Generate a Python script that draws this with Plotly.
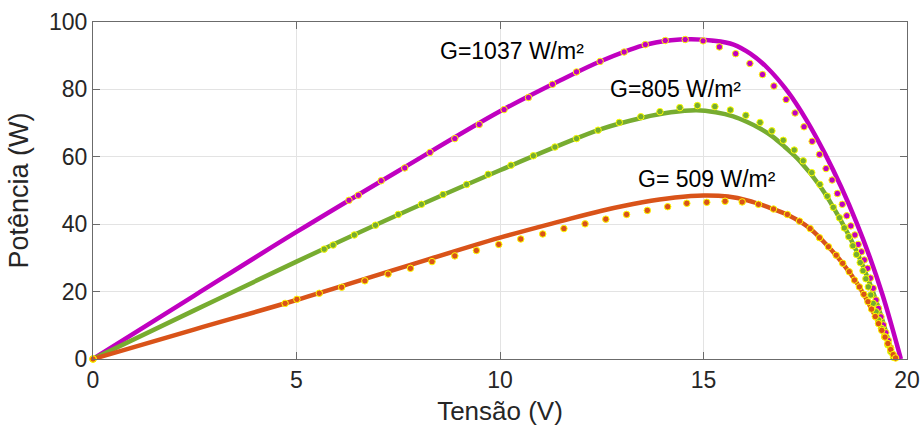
import plotly.graph_objects as go

# ---- Model curves (solid lines) ----
v_1037 = [0, 2.5, 5, 7.5, 10, 11.5, 12.5, 13.5, 14.2, 14.7, 15.2, 15.74, 16.15, 16.56,
          17.08, 17.53, 17.99, 18.38, 18.77, 19.08, 19.40, 19.62, 19.85]
p_1037 = [0, 18.9, 37.7, 55.8, 73.5, 82.8, 88.5, 93.0, 94.6, 94.9, 94.5, 93.3, 90.6, 86.5,
          79.2, 70.9, 60.8, 51.1, 40.2, 30.4, 19.0, 10.0, 0]

v_805 = [0, 2.5, 5, 7.5, 10, 11.5, 12.5, 13.5, 14.2, 14.83, 15.3, 15.73, 16.06, 16.39,
         16.7, 17.0, 17.37, 17.87, 18.37, 18.77, 19.17, 19.42, 19.67]
p_805 = [0, 14.5, 28.9, 42.8, 56.0, 63.6, 68.3, 71.6, 73.2, 73.8, 73.2, 72.0, 70.4, 68.4,
         66.0, 62.9, 58.7, 51.2, 41.2, 31.7, 19.7, 10.6, 0]

v_509 = [0, 2.5, 5, 7.5, 10, 11.5, 12.5, 13.5, 14.3, 15.0, 15.6, 16.1, 16.6, 17.1,
         17.6, 18.0, 18.4, 18.8, 19.1, 19.4, 19.72]
p_509 = [0, 8.8, 17.5, 26.8, 36.0, 40.9, 44.0, 46.5, 47.9, 48.5, 48.2, 47.0, 45.0, 42.6,
         38.9, 34.2, 28.7, 22.0, 15.5, 8.2, 0]

# ---- Measured points (dots) ----
vm_1037 = [0, 6.29, 6.52, 7.08, 7.66, 8.28, 8.89, 9.49, 10.10, 10.70, 11.29, 11.88, 12.46,
           13.05, 13.57, 14.06, 14.55, 14.99, 15.39, 15.79, 16.14, 16.45, 16.73, 17.03,
           17.25, 17.47, 17.67, 17.85, 18.01, 18.16, 18.29, 18.41, 18.52, 18.62, 18.72,
           18.80, 18.88, 18.95, 19.03, 19.10, 19.17, 19.24, 19.30, 19.36, 19.42, 19.48,
           19.54, 19.60, 19.66]
pm_1037 = [0, 47.1, 48.6, 52.9, 56.7, 61.3, 65.4, 69.6, 74.0, 77.6, 81.5, 85.2, 88.3,
           91.1, 93.3, 94.5, 94.8, 94.4, 92.6, 90.6, 87.7, 84.4, 81.0, 77.0,
           73.0, 68.9, 64.6, 60.7, 56.5, 53.1, 49.1, 45.9, 42.5, 39.5, 36.8,
           34.0, 31.8, 29.4, 26.9, 24.0, 21.0, 17.5, 15.0, 12.5, 10.1, 7.8,
           5.5, 3.3, 1.2]

vm_805 = [0, 5.68, 5.90, 6.42, 6.94, 7.50, 8.07, 8.60, 9.18, 9.71, 10.27, 10.82, 11.35,
          11.88, 12.41, 12.93, 13.46, 13.93, 14.42, 14.85, 15.28, 15.66, 16.04, 16.39,
          16.68, 16.96, 17.23, 17.45, 17.66, 17.86, 18.04, 18.19, 18.34, 18.46, 18.57,
          18.67, 18.76, 18.85, 18.92, 18.99, 19.05, 19.11, 19.17, 19.24, 19.30, 19.37,
          19.45, 19.53, 19.60, 19.67]
pm_805 = [0, 32.6, 33.8, 36.8, 39.7, 42.9, 45.9, 48.8, 51.8, 54.8, 57.5, 60.3, 62.9,
          65.4, 67.9, 70.2, 71.9, 73.4, 74.6, 75.2, 74.9, 73.9, 72.3, 70.2,
          67.7, 64.9, 62.0, 58.8, 55.3, 51.8, 48.3, 45.0, 41.9, 38.9, 36.3,
          33.6, 31.0, 28.6, 26.2, 23.8, 21.4, 19.0, 16.5, 14.0, 11.6, 9.1,
          6.6, 4.2, 2.2, 0.5]

vm_509 = [0, 4.72, 5.01, 5.56, 6.11, 6.68, 7.25, 7.80, 8.33, 8.89, 9.42, 9.97, 10.51,
          11.05, 11.57, 12.09, 12.60, 13.11, 13.62, 14.12, 14.59, 15.08, 15.53, 15.95,
          16.35, 16.72, 17.06, 17.36, 17.62, 17.85, 18.07, 18.26, 18.42, 18.58, 18.71,
          18.83, 18.94, 19.04, 19.13, 19.22, 19.30, 19.38, 19.46, 19.53, 19.60, 19.66,
          19.72]
pm_509 = [0, 16.5, 17.7, 19.5, 21.3, 23.2, 25.2, 26.9, 28.9, 30.6, 32.2, 34.0, 35.6,
          37.1, 38.7, 40.1, 41.5, 42.9, 44.1, 45.2, 46.2, 46.5, 46.8, 46.6,
          45.9, 44.5, 42.9, 40.9, 38.7, 36.0, 33.3, 30.8, 28.4, 25.9, 23.4,
          21.4, 19.2, 17.0, 14.8, 12.6, 10.5, 8.5, 6.5, 4.6, 2.8, 1.3,
          0.3]

x_ticks = [0, 5, 10, 15, 20]
y_ticks = [0, 20, 40, 60, 80, 100]

labels = ["G=1037 W/m²", "G=805 W/m²", "G= 509 W/m²"]
label_pos = [(10.3, 91.3), (14.3, 80.0), (15.08, 53.3)]

c_1037 = "#C000C0"
c_805 = "#77AC30"
c_509 = "#D95319"
edge = "#FFFF00"

fig = go.Figure()

for v, p, c in [(v_1037, p_1037, c_1037), (v_805, p_805, c_805), (v_509, p_509, c_509)]:
    fig.add_trace(go.Scatter(x=v, y=p, mode="lines",
                             line=dict(color=c, width=4.5, shape="spline", smoothing=1.0),
                             showlegend=False, hoverinfo="skip"))

for v, p, c in [(vm_1037, pm_1037, c_1037), (vm_805, pm_805, c_805), (vm_509, pm_509, c_509)]:
    fig.add_trace(go.Scatter(x=v, y=p, mode="markers",
                             marker=dict(color=c, size=6.5, line=dict(color=edge, width=1)),
                             showlegend=False, cliponaxis=False))

for txt, (xv, yv) in zip(labels, label_pos):
    fig.add_annotation(x=xv, y=yv, text=txt, showarrow=False,
                       font=dict(family="Liberation Sans, Arial", size=23, color="#000000"),
                       xanchor="center", yanchor="middle")

axis_common = dict(showline=True, linecolor="#6b6b6b", linewidth=1, mirror="ticks",
                   ticks="inside", ticklen=7, tickcolor="#6b6b6b", automargin=False,
                   showgrid=True, gridcolor="#e3e3e3", gridwidth=1, zeroline=False,
                   tickfont=dict(family="Liberation Sans, Arial", size=23, color="#262626"))

fig.update_xaxes(range=[0, 20], tickvals=x_ticks,
                 title=dict(text="Tensão (V)", standoff=10,
                            font=dict(family="Liberation Sans, Arial", size=26, color="#262626")),
                 **axis_common)
fig.update_yaxes(range=[0, 100], tickvals=y_ticks,
                 title=dict(text="Potência (W)", standoff=12,
                            font=dict(family="Liberation Sans, Arial", size=27, color="#262626")),
                 **axis_common)

fig.update_layout(width=922, height=437, margin=dict(l=93, r=15, t=22, b=78),
                  plot_bgcolor="#ffffff", paper_bgcolor="#ffffff")

fig.write_html("out.html")
